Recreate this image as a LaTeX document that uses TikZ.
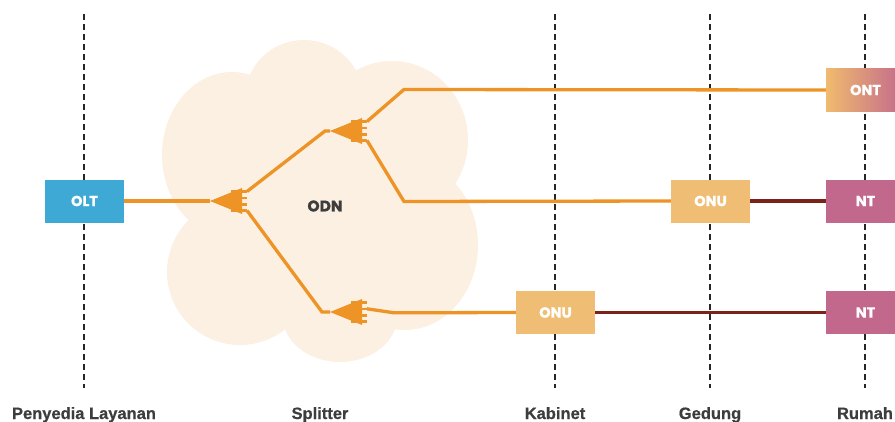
\documentclass[tikz,border=0pt]{standalone}
\usepackage{fontspec}
\setmainfont{Liberation Sans}[BoldFeatures={FakeBold=0.6}]
\newfontfamily\boxfont{Poppins}[BoldFeatures={FakeBold=1}]

\definecolor{fiber}{HTML}{EE9325}
\definecolor{copper}{HTML}{7B2318}
\definecolor{oltblue}{HTML}{3FA9D5}
\definecolor{onuyellow}{HTML}{EFBE74}
\definecolor{ntpink}{HTML}{C2688C}
\definecolor{cloudfill}{HTML}{FBF0E1}
\definecolor{labelgray}{HTML}{3D3D3D}

\tikzset{
  device/.style={minimum width=79pt,minimum height=43pt,inner sep=0pt,text=white,
    font=\boxfont\bfseries\fontsize{14.5}{16}\selectfont},
  fib/.style={draw=fiber,line width=3.3pt},
  cop/.style={draw=copper,line width=3.3pt},
  boundary/.style={draw=black!85,line width=1.5pt,dash pattern=on 6pt off 4pt},
  place/.style={text=labelgray,anchor=base,font=\bfseries\fontsize{16.5}{18}\selectfont},
  splitter/.pic={
    \fill[fiber] (0,0) -- (32,-13) -- (32,13) -- cycle;
    \foreach \dy in {-9.5,-3.2,3.2,9.5}
      \draw[fiber,line width=2.6pt] (21,\dy) -- (37,\dy);
    \coordinate (-tip) at (0,0);
    \coordinate (-top) at (37,-9.5);
    \coordinate (-mid) at (37,-3.2);
    \coordinate (-bot) at (37,9.5);
  }
}

\begin{document}
\begin{tikzpicture}[x=1pt,y=-1pt]
  \useasboundingbox (0,0) rectangle (895,421);
  \clip (0,0) rectangle (895,421);

  % ODN cloud
  \fill[cloudfill] (304,95) ellipse [x radius=58pt,y radius=55pt];
  \fill[cloudfill] (392,140) ellipse [x radius=76pt,y radius=79pt];
  \fill[cloudfill] (232,155) ellipse [x radius=70pt,y radius=83pt];
  \fill[cloudfill] (240,272) ellipse [x radius=73pt,y radius=73pt];
  \fill[cloudfill] (340,317) ellipse [x radius=57pt,y radius=45pt];
  \fill[cloudfill] (405,245) ellipse [x radius=73pt,y radius=85pt];
  \fill[cloudfill] (320,210) ellipse [x radius=110pt,y radius=100pt];

  \draw[boundary] (84,14) -- (84,388);
  \draw[boundary] (555,14) -- (555,388);
  \draw[boundary] (710,14) -- (710,388);
  \draw[boundary] (865,14) -- (865,388);

  \node[device,fill=oltblue] (olt) at (84.5,201){OLT};
  \node[device,fill=onuyellow] (onu1) at (555.5,312.5){ONU};
  \node[device,fill=onuyellow] (onu2) at (710.5,201){ONU};
  \node[device,left color=onuyellow!95!orange,right color=ntpink] (ont) at (865.5,90){ONT};
  \node[device,fill=ntpink] (nt1) at (865.5,201){NT};
  \node[device,fill=ntpink] (nt2) at (865.5,312.5){NT};

  \node[text=labelgray,font=\boxfont\bfseries\fontsize{15.5}{17}\selectfont] (odn) at (325,206){ODN};

  \pic (s1) at (210,201) {splitter};
  \pic (s2) at (330,131) {splitter};
  \pic (s3) at (330,312) {splitter};

  \draw[fib] (olt) -- (s1-tip);
  \draw[fib] (s1-top) -- ([xshift=-5pt]s2-tip) -- (s2-tip);
  \draw[fib] (s1-bot) -- ([xshift=-8pt]s3-tip) -- (s3-tip);
  \draw[fib] (s2-top) -- ++(37,-32) -- (ont.west);
  \draw[fib] (s2-bot) -- ++(37,61) -- (onu2.west);
  \draw[fib] (s3-mid) -- ++(27,4) -- (onu1.west);

  \draw[cop] (onu2) -- (nt1);
  \draw[cop] (onu1) -- (nt2);

  \node[place] (provider) at (84,419){Penyedia Layanan};
  \node[place] (split) at (320,419){Splitter};
  \node[place] (cabinet) at (555,419){Kabinet};
  \node[place] (building) at (710,419){Gedung};
  \node[place] (home) at (865,419){Rumah};
\end{tikzpicture}
\end{document}
